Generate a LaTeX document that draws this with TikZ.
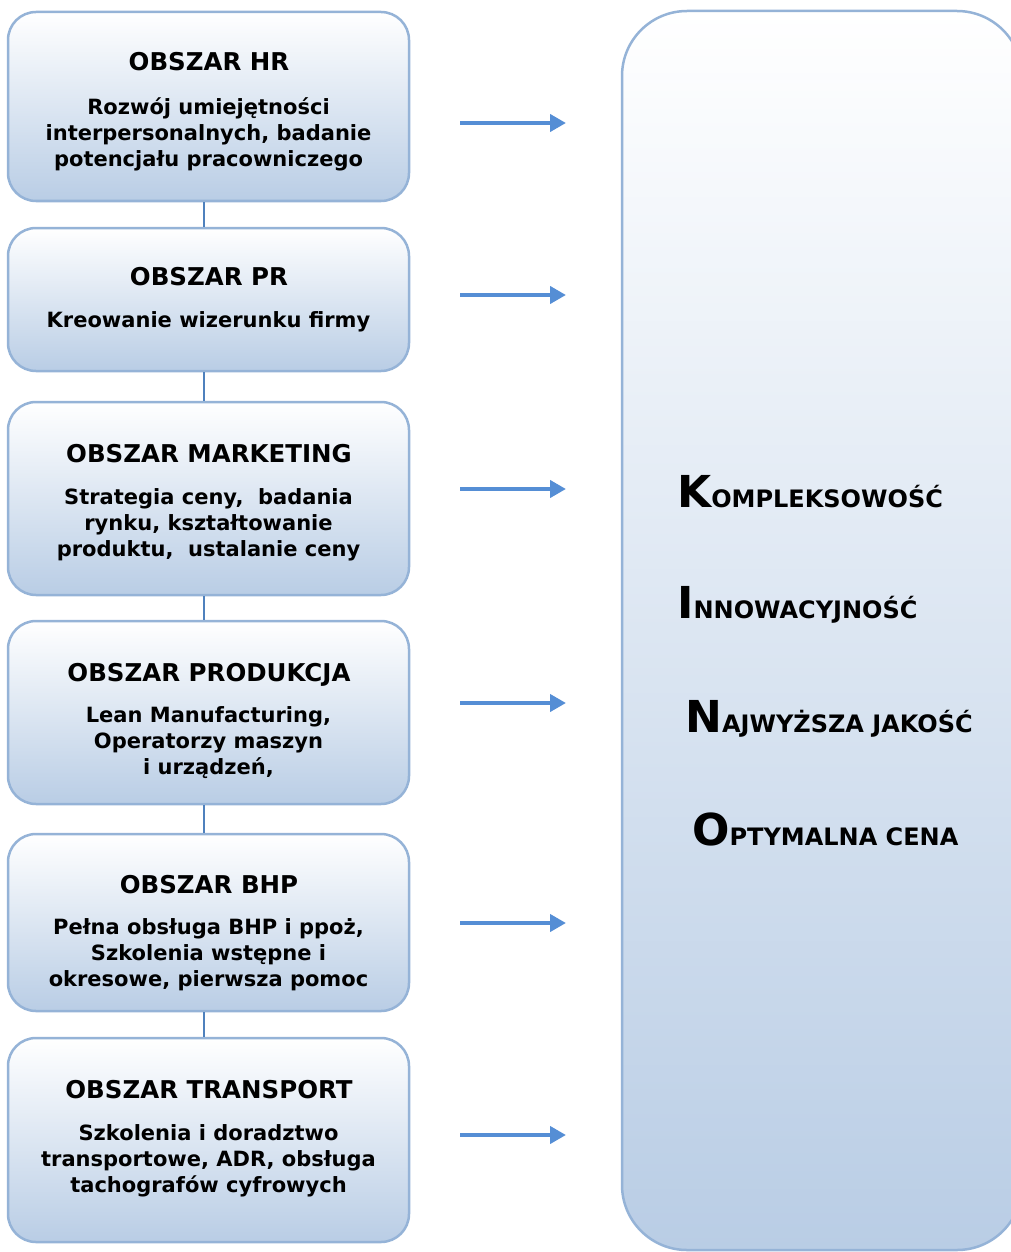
\documentclass[tikz,border=0pt]{standalone}
\usepackage{fontspec}
\setmainfont{DejaVu Sans}
\usetikzlibrary{arrows.meta,calc}
\definecolor{bordercol}{RGB}{149,179,215}
\definecolor{fillcol}{RGB}{185,205,229}
\definecolor{linkcol}{RGB}{79,129,189}
\definecolor{arrowcol}{RGB}{85,142,213}
\newcommand{\titlefnt}{\fontsize{24.5pt}{29pt}\selectfont\bfseries}
\newcommand{\bodyfnt}{\fontsize{21pt}{26pt}\selectfont\bfseries}
\newcommand{\bigfnt}{\fontsize{44pt}{50pt}\selectfont\bfseries}
\newcommand{\scfnt}{\fontsize{24pt}{30pt}\selectfont\bfseries}
\tikzset{
  areabox/.style={draw=bordercol, line width=2.5pt, rounded corners=28pt,
    top color=white, bottom color=fillcol, minimum width=401pt, inner sep=0pt},
  bigbox/.style={draw=bordercol, line width=2.5pt, rounded corners=65pt,
    top color=white, bottom color=fillcol, minimum width=400pt, minimum height=1239pt, inner sep=0pt},
  titletxt/.style={font=\titlefnt, inner sep=0pt, text height=18pt, text depth=0pt},
  bodytxt/.style={font=\bodyfnt, align=center, inner sep=0pt},
  link/.style={draw=linkcol, line width=2pt},
  flow/.style={draw=arrowcol, line width=4pt, -{Triangle[length=16pt,width=17pt]}},
  valtxt/.style={anchor=base west, inner sep=0pt}
}
\begin{document}
\begin{tikzpicture}[x=1pt,y=-1pt]
\useasboundingbox (0,0) rectangle (1011,1252);
\clip (0,0) rectangle (1011,1252);
% big right box
\node[bigbox] (values) at (822,630.5) {};
% left boxes
\node[areabox, minimum height=189pt] (hr) at (208.5,106.5) {};
\node[areabox, minimum height=143pt] (pr) at (208.5,299.5) {};
\node[areabox, minimum height=193pt] (mk) at (208.5,498.5) {};
\node[areabox, minimum height=183pt] (pd) at (208.5,712.5) {};
\node[areabox, minimum height=177pt] (bhp) at (208.5,922.5) {};
\node[areabox, minimum height=204pt] (tr) at (208.5,1140) {};
% connectors
\draw[link] ([xshift=-4.5pt]hr.south) -- ([xshift=-4.5pt]pr.north);
\draw[link] ([xshift=-4.5pt]pr.south) -- ([xshift=-4.5pt]mk.north);
\draw[link] ([xshift=-4.5pt]mk.south) -- ([xshift=-4.5pt]pd.north);
\draw[link] ([xshift=-4.5pt]pd.south) -- ([xshift=-4.5pt]bhp.north);
\draw[link] ([xshift=-4.5pt]bhp.south) -- ([xshift=-4.5pt]tr.north);
% texts
\node[titletxt] (hrt) at (209,62) {OBSZAR HR};
\node[bodytxt] (hrb) at (208.5,134) {Rozwój umiejętności\\interpersonalnych, badanie\\potencjału pracowniczego};
\node[titletxt] (prt) at (209,276) {OBSZAR PR};
\node[bodytxt] (prb) at (208.5,322) {Kreowanie wizerunku firmy};
\node[titletxt] (mkt) at (209,453) {OBSZAR MARKETING};
\node[bodytxt] (mkb) at (208.5,525) {Strategia ceny,\ \ badania\\rynku, kształtowanie\\produktu,\ \ ustalanie ceny};
\node[titletxt] (pdt) at (209,672) {OBSZAR PRODUKCJA};
\node[bodytxt] (pdb) at (208.5,743) {Lean Manufacturing,\\Operatorzy maszyn\\i urządzeń,};
\node[titletxt] (bhpt) at (209,884) {OBSZAR BHP};
\node[bodytxt] (bhpb) at (208.5,955) {Pełna obsługa BHP i ppoż,\\Szkolenia wstępne i\\okresowe, pierwsza pomoc};
\node[titletxt] (trt) at (209,1089) {OBSZAR TRANSPORT};
\node[bodytxt] (trb) at (208.5,1161) {Szkolenia i doradztwo\\transportowe, ADR, obsługa\\tachografów cyfrowych};
% arrows
\coordinate (s1) at (460,123); \coordinate (e1) at (566,123);
\coordinate (s2) at (460,295); \coordinate (e2) at (566,295);
\coordinate (s3) at (460,489); \coordinate (e3) at (566,489);
\coordinate (s4) at (460,703); \coordinate (e4) at (566,703);
\coordinate (s5) at (460,923); \coordinate (e5) at (566,923);
\coordinate (s6) at (460,1135); \coordinate (e6) at (566,1135);
\draw[flow] (s1) -- (e1);
\draw[flow] (s2) -- (e2);
\draw[flow] (s3) -- (e3);
\draw[flow] (s4) -- (e4);
\draw[flow] (s5) -- (e5);
\draw[flow] (s6) -- (e6);
% values
\node[valtxt] (v1) at (677,507) {{\bigfnt K}{\scfnt OMPLEKSOWOŚĆ}};
\node[valtxt] (v2) at (677,618) {{\bigfnt I}{\scfnt NNOWACYJNOŚĆ}};
\node[valtxt] (v3) at (685,732) {{\bigfnt N}{\scfnt AJWYŻSZA JAKOŚĆ}};
\node[valtxt] (v4) at (692,845) {{\bigfnt O}{\scfnt PTYMALNA CENA}};
\end{tikzpicture}
\end{document}
